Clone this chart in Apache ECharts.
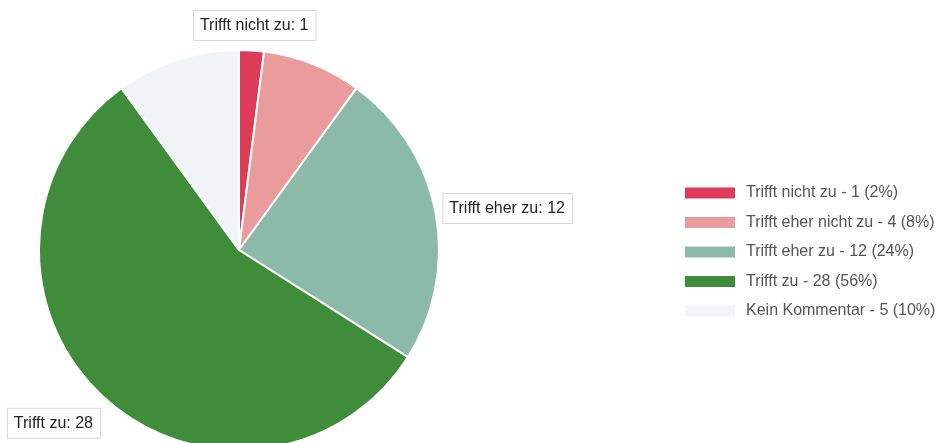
<!DOCTYPE html>
<html>
<head>
	<meta charset="UTF-8">
	<title>Umfrage</title>
	<script src="https://cdn.jsdelivr.net/npm/echarts@6/dist/echarts.min.js"></script>
	<style>
		html, body { margin: 0; padding: 0; background: #fff; }
		#chart { width: 937px; height: 443px; }
	</style>
</head>
<body>
<div id="chart"></div>
<script type="text/javascript">
	// Antwortkategorien und Anzahl
	var categories = ['Trifft nicht zu', 'Trifft eher nicht zu', 'Trifft eher zu', 'Trifft zu', 'Kein Kommentar'];
	var counts = [1, 4, 12, 28, 5];
	var colors = ['#dd3b58', '#ea9b9c', '#8cbaa9', '#3f8c3b', '#f2f5f8'];
	// welche Stücke eine Beschriftung bekommen
	var showLabel = [true, false, true, true, false];

	var total = counts.reduce(function (a, b) { return a + b; }, 0);

	// Beschriftungen leicht verschieben (wie im Original)
	var labelOffsets = [[-63, -19], [0, 0], [-3, -3], [7, 23]];

	var pieData = categories.map(function (name, i) {
		var item = {
			name: name,
			value: counts[i],
			itemStyle: { color: colors[i] },
			label: { show: showLabel[i] }
		};
		if (labelOffsets[i]) item.label.offset = labelOffsets[i];
		return item;
	});

	var myChart = echarts.init(document.getElementById('chart'));

	var option = {
		animation: false,
		legend: {
			orient: 'vertical',
			left: 683,
			top: 185,
			padding: 0,
			itemWidth: 52,
			itemHeight: 13,
			itemGap: 13.5,
			icon: 'rect',
			selectedMode: false,
			textStyle: {
				fontFamily: 'Liberation Sans, Arial, sans-serif',
				fontSize: 16,
				lineHeight: 16,
				color: '#555',
				padding: [0, 0, 0, 5]
			},
			formatter: function (name) {
				var idx = categories.indexOf(name);
				var pct = Math.round(counts[idx] / total * 100);
				return name + ' - ' + counts[idx] + ' (' + pct + '%)';
			}
		},
		series: [{
			type: 'pie',
			center: [239, 250],
			radius: 200,
			startAngle: 90,
			clockwise: true,
			avoidLabelOverlap: false,
			itemStyle: {
				borderColor: '#fff',
				borderWidth: 2
			},
			label: {
				position: 'outside',
				formatter: '{b}: {c}',
				fontFamily: 'Liberation Sans, Arial, sans-serif',
				fontSize: 16,
				color: '#222',
				backgroundColor: '#fff',
				borderColor: '#d8d8d8',
				borderWidth: 1,
				padding: [7, 7, 6, 6]
			},
			labelLine: {
				show: false,
				length: 6,
				length2: 0
			},
			emphasis: { disabled: true },
			data: pieData
		}]
	};
	myChart.setOption(option);
</script>
</body>
</html>
